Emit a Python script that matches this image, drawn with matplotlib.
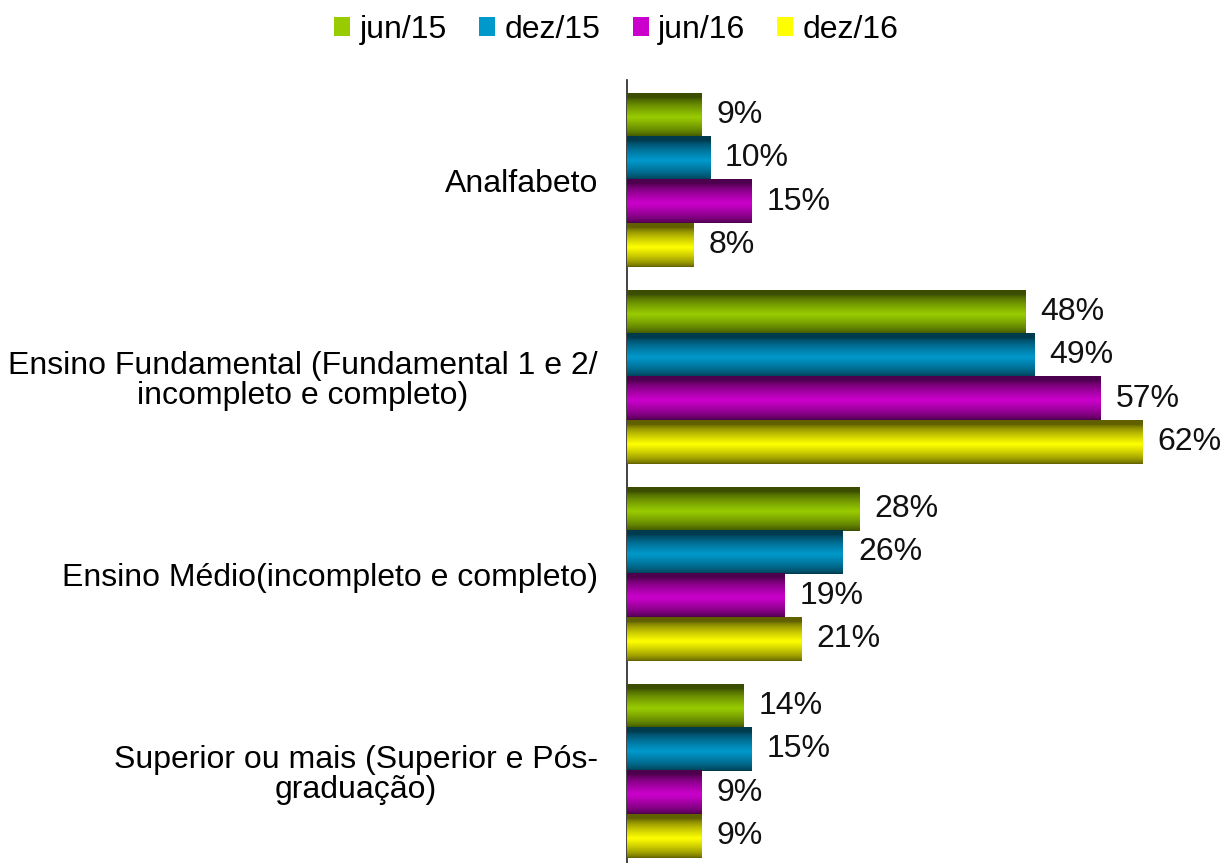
import numpy as np
import matplotlib.pyplot as plt
from matplotlib.patches import Patch
from matplotlib.colors import to_rgb

plt.rcParams['font.family'] = ['Liberation Sans', 'DejaVu Sans']

categories = ['Analfabeto',
              'Ensino Fundamental (Fundamental 1 e 2/\nincompleto e completo)',
              'Ensino Médio(incompleto e completo)',
              'Superior ou mais (Superior e Pós-\ngraduação)']
series = ['jun/15', 'dez/15', 'jun/16', 'dez/16']
jun15 = [9, 48, 28, 14]
dez15 = [10, 49, 26, 15]
jun16 = [15, 57, 19, 9]
dez16 = [8, 62, 21, 9]
colors = ['#99CC00', '#0099CC', '#CC00CC', '#FFFF00']

values = [jun15, dez15, jun16, dez16]

fig = plt.figure(figsize=(12.21, 8.63), dpi=100)
ax = fig.add_axes([627/1221, 0, 1 - 627/1221, 1 - 80/863])

h = 0.22
y = np.arange(len(categories))


def shade(c):
    # dark at top and bottom, bright band a bit below the middle
    base = np.array(to_rgb(c))
    t = np.linspace(0, 1, 64)
    f = 0.38 + 0.62 * np.clip(1 - np.abs(t - 0.55) / 0.45, 0, 1) ** 0.7
    return (base[None, :] * f[:, None])[:, None, :]


for i, (vals, col) in enumerate(zip(values, colors)):
    bars = ax.barh(y + (i - 1.5) * h, vals, height=h, color=col, zorder=2)
    img = shade(col)
    for b, v in zip(bars, vals):
        x0, y0 = b.get_x(), b.get_y()
        ax.imshow(img, extent=(x0, x0 + b.get_width(), y0 + b.get_height(), y0),
                  aspect='auto', zorder=3, interpolation='bilinear')
        ax.text(v + 1.8, y0 + b.get_height() / 2, f'{v}%', va='center', ha='left',
                fontsize=23, color='#111111', zorder=4)

ax.set_xlim(0, 71.5)
ax.set_ylim(3.467, -0.508)
ax.set_yticks(y)
ax.set_yticklabels(categories, fontsize=23, multialignment='center', linespacing=1.0)
ax.tick_params(axis='y', length=0, pad=21)
ax.set_xticks([])
for s in ['top', 'right', 'bottom']:
    ax.spines[s].set_visible(False)
ax.spines['left'].set_color('#222222')
ax.spines['left'].set_linewidth(1.2)

handles = [Patch(facecolor=c, edgecolor='none') for c in colors]
fig.legend(handles, series, loc='upper center', bbox_to_anchor=(0.505, 1.016), ncol=4,
           frameon=False, fontsize=23, handlelength=0.5, handleheight=0.5,
           handletextpad=0.3, columnspacing=1.0)

fig.savefig('out.png', dpi=100)
